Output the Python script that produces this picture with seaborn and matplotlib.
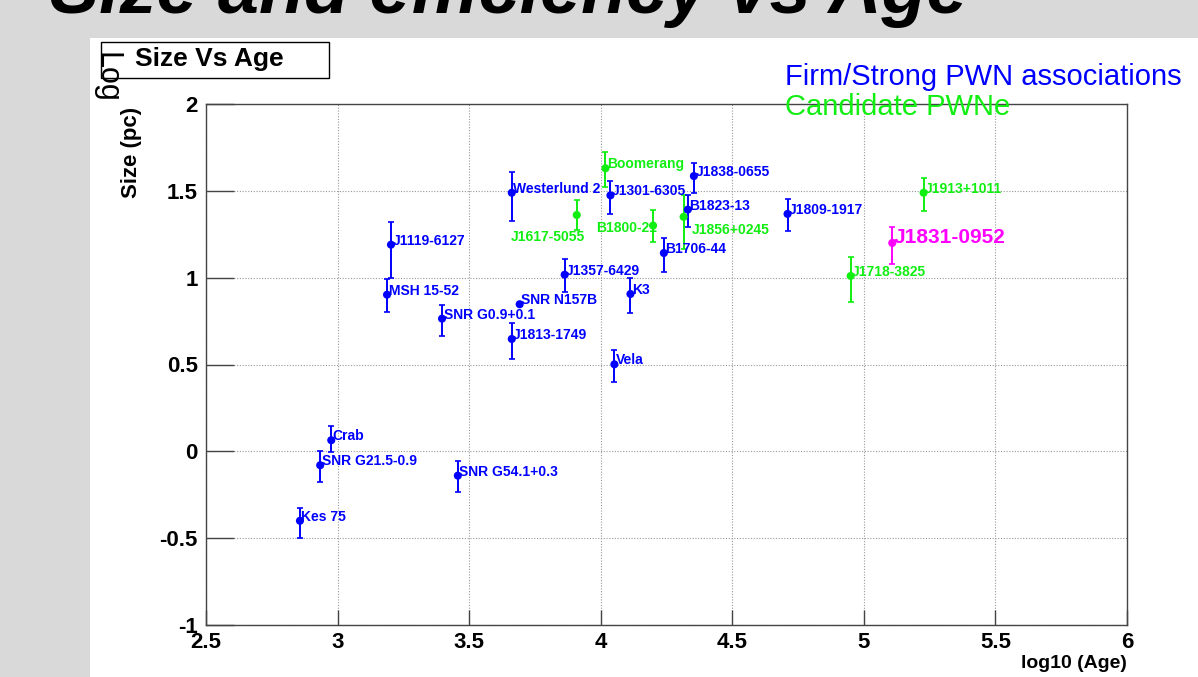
import numpy as np
import matplotlib
matplotlib.use("Agg")
import matplotlib.pyplot as plt
import matplotlib.patches as mpatches
from matplotlib.ticker import MultipleLocator, FuncFormatter
import seaborn as sns
import pandas as pd

# firm / strong PWN associations (blue)
firm_names = ["Kes 75", "SNR G21.5-0.9", "Crab", "SNR G54.1+0.3", "MSH 15-52",
              "J1119-6127", "SNR G0.9+0.1", "SNR N157B", "J1813-1749", "J1357-6429",
              "K3", "Vela", "Westerlund 2", "J1301-6305", "J1838-0655", "B1823-13",
              "B1706-44", "J1809-1917"]
firm_age = [2.857, 2.934, 2.976, 3.457, 3.188, 3.203, 3.397, 3.692, 3.662, 3.863,
            4.113, 4.052, 3.662, 4.037, 4.354, 4.331, 4.240, 4.710]
firm_size = [-0.40, -0.08, 0.064, -0.14, 0.902, 1.19, 0.764, 0.847, 0.647, 1.017,
             0.906, 0.501, 1.489, 1.474, 1.585, 1.392, 1.142, 1.367]
firm_up = [0.075, 0.08, 0.08, 0.085, 0.09, 0.13, 0.08, 0.01, 0.09, 0.09,
           0.09, 0.08, 0.12, 0.082, 0.077, 0.084, 0.088, 0.085]
firm_down = [0.10, 0.095, 0.07, 0.095, 0.10, 0.19, 0.10, 0.01, 0.115, 0.10,
             0.11, 0.10, 0.163, 0.108, 0.10, 0.101, 0.11, 0.096]

# candidate PWNe (green)
cand_names = ["Boomerang", "J1617-5055", "B1800-21", "J1856+0245", "J1913+1011", "J1718-3825"]
cand_age = [4.018, 3.909, 4.199, 4.315, 5.227, 4.950]
cand_size = [1.63, 1.361, 1.30, 1.35, 1.489, 1.01]
cand_up = [0.094, 0.085, 0.088, 0.127, 0.083, 0.111]
cand_down = [0.11, 0.087, 0.095, 0.184, 0.107, 0.148]

# the new source (magenta)
new_names = ["J1831-0952"]
new_age = [5.108]
new_size = [1.20]
new_up = [0.092]
new_down = [0.121]

x_ticks = [2.5, 3, 3.5, 4, 4.5, 5, 5.5, 6]
y_ticks = [-1, -0.5, 0, 0.5, 1, 1.5, 2]

# label offsets in pixels (default: just right of the point, on its baseline)
label_shift = {"J1617-5055": (-66, -26), "B1800-21": (-57, -6), "J1856+0245": (8, -17)}

blue = "#0000ff"
green = "#11ee11"
magenta = "#ff00ff"

df = pd.concat([
    pd.DataFrame({"name": firm_names, "age": firm_age, "size": firm_size,
                  "up": firm_up, "down": firm_down, "group": "firm"}),
    pd.DataFrame({"name": cand_names, "age": cand_age, "size": cand_size,
                  "up": cand_up, "down": cand_down, "group": "cand"}),
    pd.DataFrame({"name": new_names, "age": new_age, "size": new_size,
                  "up": new_up, "down": new_down, "group": "new"}),
], ignore_index=True)
palette = {"firm": blue, "cand": green, "new": magenta}

sns.set_theme(style="white")
plt.rcParams["font.family"] = ["Liberation Sans", "DejaVu Sans"]
plt.rcParams["text.color"] = "black"
plt.rcParams["xtick.color"] = "black"
plt.rcParams["ytick.color"] = "black"

fig = plt.figure(figsize=(11.98, 6.77), dpi=100, facecolor="#d9d9d9")
# white slide panel
fig.patches.append(mpatches.Rectangle((90 / 1198, 0), 1108 / 1198, 1 - 38 / 677,
                                      transform=fig.transFigure, facecolor="white",
                                      edgecolor="none", zorder=-10))
fig.text(50 / 1198, 1 - 13 / 677, "Size and efficiency vs Age", fontsize=53,
         fontweight="bold", style="italic", color="black", va="baseline", ha="left")

ax = fig.add_axes([206 / 1198, 1 - 625 / 677, 921 / 1198, 521 / 677])
ax.set_facecolor("white")

for g, sub in df.groupby("group"):
    ax.errorbar(sub["age"], sub["size"], yerr=[sub["down"], sub["up"]], fmt="none",
                ecolor=palette[g], elinewidth=1.4, capsize=2.2, capthick=1.2, zorder=3)
sns.scatterplot(data=df, x="age", y="size", hue="group", palette=palette, s=34,
                edgecolor="none", legend=False, ax=ax, zorder=4)

for _, r in df.iterrows():
    dx, dy = label_shift.get(r["name"], (1.5, 0))
    big = r["group"] == "new"
    ax.annotate(r["name"], (r["age"], r["size"]), xytext=(dx, dy),
                textcoords="offset pixels", color=palette[r["group"]],
                fontsize=15 if big else 10, fontweight="bold",
                ha="left", va="baseline", zorder=5)

ax.set_xlim(2.5, 6)
ax.set_ylim(-1, 2)
ax.set_xticks(x_ticks)
ax.set_yticks(y_ticks)
fmt = FuncFormatter(lambda v, p: "%g" % v)
ax.xaxis.set_major_formatter(fmt)
ax.yaxis.set_major_formatter(fmt)
ax.xaxis.set_minor_locator(MultipleLocator(0.1))
ax.yaxis.set_minor_locator(MultipleLocator(0.1))
ax.tick_params(axis="both", which="both", direction="in", color="#444444",
               width=1.0, labelsize=16, labelcolor="black")
ax.tick_params(axis="y", which="major", length=20, pad=6)
ax.tick_params(axis="y", which="minor", length=9.5)
ax.tick_params(axis="x", which="major", length=11, pad=5)
ax.tick_params(axis="x", which="minor", length=5.5)
ax.tick_params(top=False, right=False, left=True, bottom=True)
for lab in ax.get_xticklabels() + ax.get_yticklabels():
    lab.set_fontweight("bold")
ax.grid(True, which="major", linestyle=(0, (1, 1.5)), color="#999999", linewidth=0.8)
ax.set_axisbelow(True)
for sp in ax.spines.values():
    sp.set_color("#444444")
    sp.set_linewidth(1.0)
ax.set_xlabel("")
ax.set_ylabel("")
ax.text(1.0, -(664 - 625) / 521, "log10 (Age)", transform=ax.transAxes, ha="right",
        va="center", fontsize=14, fontweight="bold")

fig.text(131 / 1198, 1 - 152 / 677, "Size (pc)", rotation=90, ha="center", va="center",
         fontsize=16, fontweight="bold")
fig.text(107 / 1198, 1 - 77 / 677, "Log", rotation=-90, ha="center", va="center",
         fontsize=22)

# title box
fig.patches.append(mpatches.Rectangle((101 / 1198, 1 - 78 / 677), 228 / 1198, 36 / 677,
                                      transform=fig.transFigure, facecolor="none",
                                      edgecolor="black", linewidth=1.0, zorder=5))
fig.text(135 / 1198, 1 - 59 / 677, "Size Vs Age", fontsize=19, fontweight="bold",
         ha="left", va="center")

fig.text(785 / 1198, 1 - 85 / 677, "Firm/Strong PWN associations", color=blue,
         fontsize=21, ha="left", va="baseline")
fig.text(785 / 1198, 1 - 115 / 677, "Candidate PWNe", color=green,
         fontsize=21, ha="left", va="baseline")

fig.savefig("out.png", dpi=100, facecolor=fig.get_facecolor())
